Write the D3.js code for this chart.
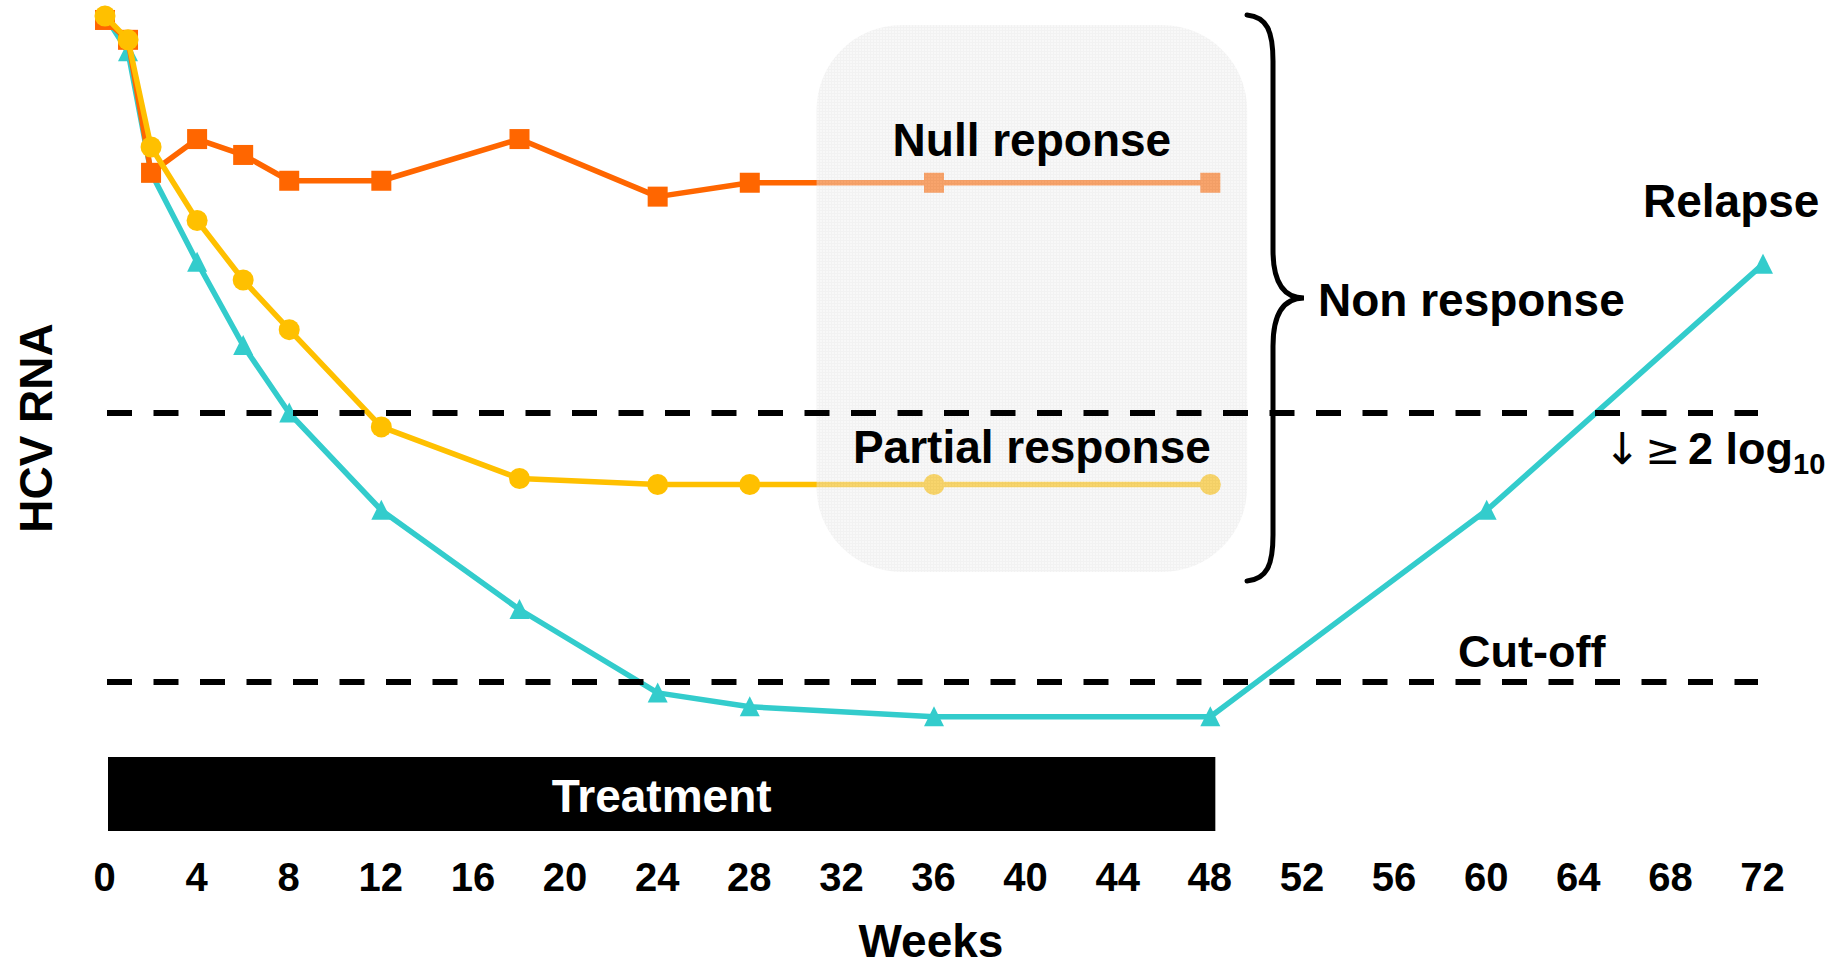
<!DOCTYPE html>
<html>
<head>
<meta charset="utf-8">
<title>HCV RNA response patterns</title>
<script src="https://cdn.jsdelivr.net/npm/d3@7"></script>
<style>
  html, body { margin: 0; padding: 0; background: #ffffff; }
  svg { display: block; }
  text { font-family: "Liberation Sans", Arial, Helvetica, sans-serif; }
</style>
</head>
<body>
<div id="chart"></div>
<script>
// Weeks since start of therapy
const weeksOnTreatment = [0, 1, 2, 4, 6, 8, 12, 18, 24, 28, 36, 48];
const weeksWithFollowUp = [0, 1, 2, 4, 6, 8, 12, 18, 24, 28, 36, 48, 60, 72];

// HCV RNA, log10 IU/mL (schematic)
const nullResponse = [6.98, 6.88, 6.21, 6.38, 6.30, 6.17, 6.17, 6.38, 6.09, 6.16, 6.16, 6.16];
const partialResponse = [7.00, 6.88, 6.34, 5.97, 5.67, 5.42, 4.93, 4.67, 4.64, 4.64, 4.64, 4.64];
const relapse = [7.00, 6.82, 6.21, 5.76, 5.34, 5.00, 4.51, 4.01, 3.59, 3.52, 3.47, 3.47, 4.51, 5.75];

// Reference levels
const twoLogDropLevel = 5.0;
const cutoffLevel = 3.645;

// Axis ticks
const weekTicks = [0, 4, 8, 12, 16, 20, 24, 28, 32, 36, 40, 44, 48, 52, 56, 60, 64, 68, 72];

// Treatment period (weeks)
const treatmentSpan = [0, 48];
// Weeks covered by the shaded non-response window
const shadedSpan = [30.9, 49.6];

const W = 1848, H = 968;
const x = d3.scaleLinear().domain([0, 72]).range([105, 1763]);
const y = d3.scaleLinear().domain([7, 3]).range([16, 810]);

const svg = d3.select("#chart").append("svg")
  .attr("width", W).attr("height", H);

const defs = svg.append("defs");
const pat = defs.append("pattern")
  .attr("id", "mesh").attr("patternUnits", "userSpaceOnUse")
  .attr("width", 3).attr("height", 3);
pat.append("rect").attr("width", 3).attr("height", 3).attr("fill", "#efefef");
pat.append("path").attr("d", "M0,0.5H3M0.5,0V3")
  .attr("stroke", "#e2e2e2").attr("stroke-width", 1);

const line = d3.line().x(d => x(d[0])).y(d => y(d[1]));

const series = [
  { weeks: weeksWithFollowUp, values: relapse, color: "#33cccc", marker: "triangle" },
  { weeks: weeksOnTreatment, values: nullResponse, color: "#ff6600", marker: "square" },
  { weeks: weeksOnTreatment, values: partialResponse, color: "#ffc000", marker: "circle" }
];

const triangle = "M0,-10.5L10,9.5L-10,9.5Z";

series.forEach(s => {
  const pts = s.weeks.map((w, i) => [w, s.values[i]]);
  const g = svg.append("g");
  g.append("path").attr("d", line(pts))
    .attr("fill", "none").attr("stroke", s.color)
    .attr("stroke-width", 5.5).attr("stroke-linejoin", "round");
  const m = g.selectAll(".m").data(pts).enter();
  if (s.marker === "square") {
    m.append("rect")
      .attr("x", d => x(d[0]) - 10).attr("y", d => y(d[1]) - 10)
      .attr("width", 20).attr("height", 20).attr("fill", s.color);
  } else if (s.marker === "circle") {
    m.append("circle")
      .attr("cx", d => x(d[0])).attr("cy", d => y(d[1]))
      .attr("r", 10.5).attr("fill", s.color);
  } else {
    m.append("path").attr("d", triangle)
      .attr("transform", d => `translate(${x(d[0])},${y(d[1])})`)
      .attr("fill", s.color);
  }
});

// Shaded window over the flat late-treatment segments
const boxTop = 25, boxBottom = 572;
svg.append("rect")
  .attr("x", x(shadedSpan[0])).attr("y", boxTop)
  .attr("width", x(shadedSpan[1]) - x(shadedSpan[0]))
  .attr("height", boxBottom - boxTop)
  .attr("rx", 85).attr("ry", 85)
  .attr("fill", "url(#mesh)").attr("opacity", 0.45);

const boxCx = (x(shadedSpan[0]) + x(shadedSpan[1])) / 2;
svg.append("text").attr("x", boxCx).attr("y", 156)
  .attr("text-anchor", "middle").attr("font-size", 46).attr("font-weight", "bold")
  .text("Null reponse");
svg.append("text").attr("x", boxCx).attr("y", 463)
  .attr("text-anchor", "middle").attr("font-size", 46).attr("font-weight", "bold")
  .text("Partial response");

// Dashed reference lines
[twoLogDropLevel, cutoffLevel].forEach(v => {
  svg.append("line")
    .attr("x1", 107).attr("x2", 1758)
    .attr("y1", y(v)).attr("y2", y(v))
    .attr("stroke", "#000").attr("stroke-width", 6)
    .attr("stroke-dasharray", "25,21.5");
});

// Curly brace grouping the non-response patterns
const bx = 1273, tipX = 1304, tipY = 298, bTop = 15, bBot = 581;
svg.append("path")
  .attr("d", `M${bx - 26},${bTop} C${bx - 6},${bTop + 2} ${bx},${bTop + 16} ${bx},${bTop + 46}
     L${bx},${tipY - 48} C${bx},${tipY - 14} ${bx + 12},${tipY} ${tipX},${tipY}
     C${bx + 12},${tipY} ${bx},${tipY + 14} ${bx},${tipY + 48}
     L${bx},${bBot - 46} C${bx},${bBot - 16} ${bx - 6},${bBot - 2} ${bx - 26},${bBot}`)
  .attr("fill", "none").attr("stroke", "#000").attr("stroke-width", 5)
  .attr("stroke-linecap", "round");

svg.append("text").attr("x", 1318).attr("y", 316)
  .attr("font-size", 46).attr("font-weight", "bold").text("Non response");
svg.append("text").attr("x", 1643).attr("y", 217)
  .attr("font-size", 46).attr("font-weight", "bold").text("Relapse");
svg.append("text").attr("x", 1458).attr("y", 667)
  .attr("font-size", 45).attr("font-weight", "bold").text("Cut-off");

const drop = svg.append("text").attr("x", 1604).attr("y", 464).attr("font-size", 45);
drop.append("tspan").attr("font-family", "\"DejaVu Sans\", sans-serif")
  .attr("font-weight", "normal").attr("font-size", 44).text("\u2193");
drop.append("tspan").attr("font-family", "\"DejaVu Sans\", sans-serif")
  .attr("font-weight", "normal").attr("font-size", 42).attr("dx", 4).text("\u2265");
drop.append("tspan").attr("font-weight", "bold").attr("dx", 8).text("2 log");
drop.append("tspan").attr("font-weight", "bold").attr("font-size", 29).attr("dy", 10).text("10");

// Treatment bar
svg.append("rect")
  .attr("x", x(treatmentSpan[0]) + 3).attr("y", 757)
  .attr("width", x(treatmentSpan[1]) - x(treatmentSpan[0]) + 2).attr("height", 74)
  .attr("fill", "#000");
svg.append("text")
  .attr("x", (x(treatmentSpan[0]) + x(treatmentSpan[1])) / 2 + 4).attr("y", 812)
  .attr("text-anchor", "middle").attr("fill", "#fff")
  .attr("font-size", 46).attr("font-weight", "bold").text("Treatment");

// Week axis
const xAxis = d3.axisBottom(x).tickValues(weekTicks).tickSize(0).tickPadding(0);
const ax = svg.append("g").attr("transform", "translate(-1,863)").call(xAxis);
ax.select(".domain").remove();
ax.selectAll("text")
  .attr("font-family", "\"Liberation Sans\", Arial, sans-serif")
  .attr("font-size", 40).attr("font-weight", "bold").attr("fill", "#000");

svg.append("text").attr("x", 931).attr("y", 957)
  .attr("text-anchor", "middle").attr("font-size", 46).attr("font-weight", "bold")
  .text("Weeks");

svg.append("text")
  .attr("transform", "translate(52,428) rotate(-90)")
  .attr("text-anchor", "middle").attr("font-size", 46).attr("font-weight", "bold")
  .text("HCV RNA");
</script>
</body>
</html>
